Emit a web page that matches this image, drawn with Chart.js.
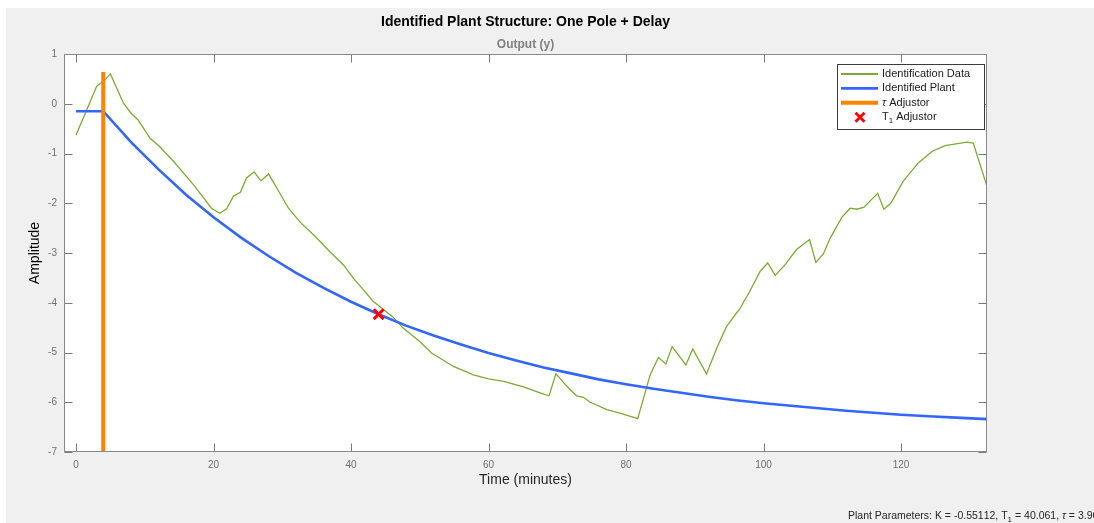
<!DOCTYPE html>
<html><head><meta charset="utf-8">
<script src="https://cdn.jsdelivr.net/npm/chart.js@4.4.0/dist/chart.umd.min.js"></script>
<style>html,body{margin:0;padding:0;background:#fff;overflow:hidden}</style>
</head><body>
<canvas id="c" width="1094" height="523" style="display:block;width:1094px;height:523px"></canvas>
<script>
// ---- text ----
const chartTitle = 'Identified Plant Structure: One Pole + Delay';
const chartSubtitle = 'Output (y)';
const xAxisLabel = 'Time (minutes)';
const yAxisLabel = 'Amplitude';
const paramText = 'Plant Parameters: K = -0.55112, T₁ = 40.061, τ = 3.961';
const seriesNames = ['Identification Data', 'Identified Plant', 'τ Adjustor', 'T₁ Adjustor'];

// ---- ticks ----
const xTicks = [0, 20, 40, 60, 80, 100, 120];
const yTicks = [1, 0, -1, -2, -3, -4, -5, -6, -7];

// ---- identification data (measured output) ----
const dataTime = [0, 1.5, 3.0, 4.0, 5.0, 6.9, 8.0, 9.0, 10.8, 12.0, 14.2, 17.1, 19.7, 20.9, 21.9, 22.9, 23.9, 24.8, 25.9, 26.9, 28.0,
  30.2, 30.9, 32.6, 34.8, 36.9, 38.9, 40.3, 41.8, 43.2, 44.5, 46.2, 47.5, 49.1, 50.0, 51.7, 52.9, 54.9, 57.8, 60.0, 62.2, 65.1,
  67.7, 68.8, 69.8, 71.4, 72.8, 73.8, 74.8, 77.2, 79.1, 81.7, 83.5, 84.7, 85.8, 86.7, 88.7, 89.7, 91.7, 93.2, 94.6, 96.6, 98.0,
  99.5, 100.6, 101.7, 103.1, 104.8, 106.7, 107.6, 108.7, 109.7, 111.4, 112.6, 113.6, 114.6, 116.6, 117.5, 118.5, 120.3, 122.5,
  124.5, 126.4, 129.6, 130.5, 132.5];
const dataAmp = [-0.63, -0.14, 0.35, 0.45, 0.60, 0.01, -0.19, -0.32, -0.70, -0.84, -1.16, -1.63, -2.10, -2.20, -2.11, -1.86, -1.78, -1.49, -1.37, -1.55, -1.41,
  -1.93, -2.10, -2.38, -2.67, -2.97, -3.24, -3.50, -3.74, -3.97, -4.11, -4.30, -4.50, -4.68, -4.78, -5.01, -5.11, -5.28, -5.45, -5.53, -5.58, -5.69,
  -5.82, -5.87, -5.43, -5.68, -5.87, -5.90, -6.00, -6.15, -6.22, -6.33, -5.45, -5.10, -5.23, -4.88, -5.25, -4.93, -5.43, -4.91, -4.48, -4.11, -3.77,
  -3.37, -3.20, -3.45, -3.24, -2.93, -2.73, -3.19, -3.02, -2.70, -2.28, -2.10, -2.12, -2.08, -1.80, -2.12, -2.00, -1.56, -1.19,
  -0.96, -0.84, -0.77, -0.79, -1.66];

// ---- identified plant response ----
const plantTime = [0, 3.96, 8, 12, 16, 20, 24, 28, 32, 36, 40, 44, 48, 52, 56, 60, 64, 68, 72, 76, 80, 84, 88, 92, 96, 100, 104, 108, 112, 116, 120, 124, 128, 132.5];
const plantAmp = [-0.15, -0.15, -0.77, -1.32, -1.83, -2.28, -2.69, -3.06, -3.40, -3.70, -3.98, -4.23, -4.46, -4.66, -4.84, -5.01, -5.16, -5.30, -5.42, -5.54, -5.64, -5.73, -5.81, -5.89, -5.96, -6.02, -6.07, -6.12, -6.17, -6.21, -6.25, -6.28, -6.31, -6.34];

// ---- adjustors ----
const tauTime = [3.96, 3.96];
const tauAmp = [0.64, -7];
const t1Time = [44.02];
const t1Amp = [-4.23];

const FONT = "'Liberation Sans', Arial, Helvetica, sans-serif";
const toXY = (xs, ys) => xs.map((x, i) => ({ x, y: ys[i] }));

// draw text with τ italic and ₁ as subscript
function drawRich(ctx, text, x, y, size, weight) {
  ctx.textBaseline = 'middle';
  ctx.textAlign = 'left';
  let cx = x;
  for (const ch of text) {
    if (ch === '₁') {
      ctx.font = `${weight || ''} ${Math.round(size * 0.72)}px ${FONT}`;
      ctx.fillText('1', cx, y + size * 0.35);
      cx += ctx.measureText('1').width;
    } else if (ch === 'τ') {
      ctx.font = `italic ${weight || ''} ${size}px ${FONT}`;
      ctx.fillText(ch, cx, y);
      cx += ctx.measureText(ch).width;
    } else {
      ctx.font = `${weight || ''} ${size}px ${FONT}`;
      ctx.fillText(ch, cx, y);
      cx += ctx.measureText(ch).width;
    }
  }
  return cx;
}

const framePlugin = {
  id: 'frame',
  beforeDraw(chart) {
    const { ctx, chartArea: a } = chart;
    ctx.save();
    ctx.fillStyle = '#ffffff';
    ctx.fillRect(0, 0, chart.width, chart.height);
    ctx.fillStyle = '#f0f0f0';
    ctx.fillRect(6, 8, chart.width - 6, chart.height - 8);
    ctx.fillStyle = '#ffffff';
    ctx.fillRect(a.left, a.top, a.right - a.left, a.bottom - a.top);
    // titles
    const cx = (a.left + a.right) / 2;
    ctx.textAlign = 'center';
    ctx.textBaseline = 'middle';
    ctx.fillStyle = '#000000';
    ctx.font = `bold 14px ${FONT}`;
    ctx.fillText(chartTitle, cx, 22);
    ctx.fillStyle = '#808080';
    ctx.font = `bold 12px ${FONT}`;
    ctx.fillText(chartSubtitle, cx, 45);
    // parameters text
    ctx.fillStyle = '#262626';
    drawRich(ctx, paramText, 848, 516, 10.5, '');
    ctx.restore();
  },
  afterDatasetsDraw(chart) {
    const { ctx, chartArea: a, scales } = chart;
    ctx.save();
    const L = Math.round(a.left) + 0.5, R = Math.round(a.right) - 0.5;
    const T = Math.round(a.top) + 0.5, B = Math.round(a.bottom) - 0.5;
    ctx.strokeStyle = '#7a7a7a';
    ctx.lineWidth = 1;
    ctx.beginPath();
    for (const t of scales.x.ticks) {
      const px = Math.round(scales.x.getPixelForValue(t.value)) + 0.5;
      ctx.moveTo(px, B); ctx.lineTo(px, B - 8);
      ctx.moveTo(px, T); ctx.lineTo(px, T + 8);
    }
    for (const t of scales.y.ticks) {
      const py = Math.round(scales.y.getPixelForValue(t.value)) + 0.5;
      ctx.moveTo(L, py); ctx.lineTo(L + 8, py);
      ctx.moveTo(R, py); ctx.lineTo(R - 8, py);
    }
    ctx.stroke();
    ctx.strokeStyle = '#8a8a8a';
    ctx.strokeRect(L, T, R - L, B - T);
    ctx.restore();
  },
  afterDraw(chart) {
    const { ctx } = chart;
    ctx.save();
    const bx = 837.5, by = 64.5, bw = 147, bh = 65;
    ctx.fillStyle = '#ffffff';
    ctx.fillRect(bx, by, bw, bh);
    ctx.strokeStyle = '#3c3c3c';
    ctx.lineWidth = 1;
    ctx.strokeRect(bx, by, bw, bh);
    chart.data.datasets.forEach((ds, i) => {
      const y = 74 + i * 14.4;
      if (ds.showLine === false) {
        const s = 4.5;
        ctx.strokeStyle = ds.borderColor;
        ctx.lineWidth = 2.8;
        ctx.beginPath();
        ctx.moveTo(860 - s, y - s); ctx.lineTo(860 + s, y + s);
        ctx.moveTo(860 + s, y - s); ctx.lineTo(860 - s, y + s);
        ctx.stroke();
      } else {
        ctx.strokeStyle = ds.borderColor;
        ctx.lineWidth = ds.legendWidth;
        ctx.beginPath();
        ctx.moveTo(841, y); ctx.lineTo(878, y);
        ctx.stroke();
      }
      ctx.fillStyle = '#1a1a1a';
      drawRich(ctx, ds.label, 882, y, 11, '');
    });
    ctx.restore();
  }
};

new Chart(document.getElementById('c'), {
  type: 'line',
  data: {
    datasets: [
      { label: seriesNames[0], data: toXY(dataTime, dataAmp), borderColor: '#7aab35', borderWidth: 1.3, legendWidth: 2,
        pointRadius: 0, tension: 0, order: 3 },
      { label: seriesNames[1], data: toXY(plantTime, plantAmp), borderColor: '#3366ff', borderWidth: 2.6, legendWidth: 2.6,
        pointRadius: 0, tension: 0, order: 2 },
      { label: seriesNames[2], data: toXY(tauTime, tauAmp), borderColor: '#ff8500', borderWidth: 4, legendWidth: 4,
        pointRadius: 0, tension: 0, order: 1, borderCapStyle: 'butt' },
      { label: seriesNames[3], data: toXY(t1Time, t1Amp), borderColor: '#ff0000', backgroundColor: '#ff0000', showLine: false,
        pointStyle: 'crossRot', pointRadius: 7, pointBorderWidth: 3, order: 0 }
    ]
  },
  options: {
    responsive: false,
    devicePixelRatio: 1,
    animation: false,
    events: [],
    layout: { padding: { left: 0, top: 54, right: 107, bottom: 0 } },
    plugins: { legend: { display: false }, tooltip: { enabled: false }, title: { display: false } },
    scales: {
      x: {
        type: 'linear', min: -1.75, max: 132.5,
        afterBuildTicks: s => { s.ticks = xTicks.map(v => ({ value: v })); },
        afterFit: s => { s.height = 71; },
        grid: { display: false, drawTicks: false },
        border: { display: false },
        ticks: { padding: 7, color: '#6e6e6e', font: { family: FONT, size: 10 }, maxRotation: 0, autoSkip: false },
        title: { display: true, text: xAxisLabel, color: '#262626', font: { family: FONT, size: 14 }, padding: { top: 0, bottom: 34.6 } }
      },
      y: {
        type: 'linear', min: -7, max: 1,
        afterBuildTicks: s => { s.ticks = yTicks.map(v => ({ value: v })); },
        afterFit: s => { s.width = 64; },
        grid: { display: false, drawTicks: false },
        border: { display: false },
        ticks: { padding: 7, color: '#6e6e6e', font: { family: FONT, size: 10 }, autoSkip: false },
        title: { display: true, text: yAxisLabel, color: '#000000', font: { family: FONT, size: 14 }, padding: { top: 26.6, bottom: 0 } }
      }
    }
  },
  plugins: [framePlugin]
});
</script>
</body></html>
